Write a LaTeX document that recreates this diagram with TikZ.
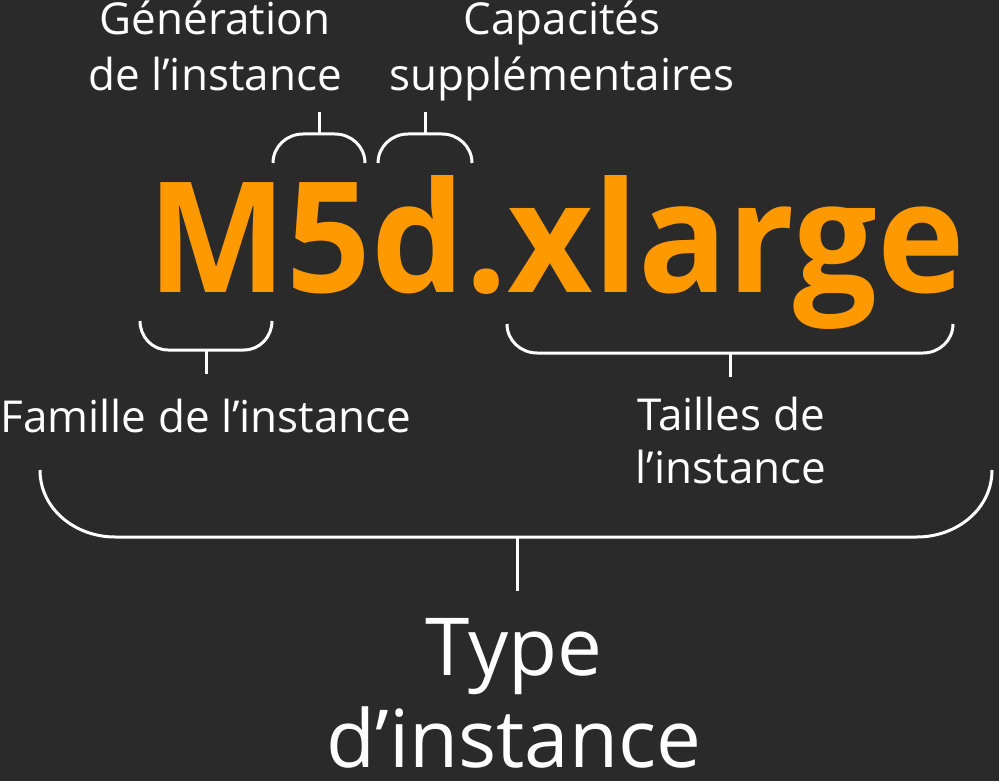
\documentclass[tikz,border=0pt]{standalone}
\usepackage{fontspec}
\setmainfont{Open Sans}
\usetikzlibrary{calc}
\definecolor{bgdark}{HTML}{2A2A2A}
\definecolor{awsorange}{HTML}{FF9900}
\tikzset{
  lbl/.style={text=white, inner sep=0pt, anchor=base, align=center},
  brace/.style={draw=white, line width=3pt},
}
\begin{document}
\begin{tikzpicture}[x=1pt, y=-1pt]
		%%%%% START %%%%%
		
		\fill[bgdark] (0, 0) rectangle (999, 781);
		\useasboundingbox (0, 0) rectangle (999, 781);
		
		\node[inner sep=0pt, anchor=base, text=awsorange, xscale=0.962, transform shape, font=\bfseries\fontsize{154}{154}\selectfont] (itype) at (556, 292) {M5d.xlarge};
		
		\node[lbl, font=\fontsize{44}{56}\selectfont] (gen) at (215, 91) {Génération\\de l’instance};
		\node[lbl, font=\fontsize{44}{56}\selectfont] (cap) at (562, 91) {Capacités\\supplémentaires};
		
		\node[lbl, font=\fontsize{44}{53}\selectfont] (fam) at (206, 432) {Famille de l’instance};
		\node[lbl, font=\fontsize{44}{53}\selectfont] (size) at (731, 483) {Tailles de\\l’instance};
		
		\node[lbl, font=\fontsize{80}{92}\selectfont] (tname) at (514, 767) {Type\\d’instance};
		
		% brackets above
		\draw[brace] (273, 163) to[out=90, in=180] (303, 134) -- (335, 134) to[out=0, in=90] (365, 163);
		\coordinate (genmid) at (319, 134);
		\draw[brace] (genmid) -- ++(0, -22);
		
		\draw[brace] (378, 163) to[out=90, in=180] (408, 134) -- (442, 134) to[out=0, in=90] (472, 163);
		\coordinate (capmid) at (425, 134);
		\draw[brace] (capmid) -- ++(0, -22);
		
		% brackets below
		\draw[brace] (140, 321) to[out=-90, in=180] (168, 350) -- (244, 350) to[out=0, in=-90] (272, 321);
		\coordinate (fammid) at (206, 350);
		\draw[brace] (fammid) -- ++(0, 24);
		
		\draw[brace] (507, 324) to[out=-90, in=180] (537, 353) -- (923, 353) to[out=0, in=-90] (953, 324);
		\coordinate (sizemid) at (730, 353);
		\draw[brace] (sizemid) -- ++(0, 24);
		
		\draw[brace] (40, 470) to[out=-90, in=180] (115, 537) -- (917, 537) to[out=0, in=-90] (992, 470);
		\coordinate (typemid) at (517, 537);
		\draw[brace] (typemid) -- ++(0, 54);
		
		%%%%% END %%%%%
	\end{tikzpicture}
\end{document}
